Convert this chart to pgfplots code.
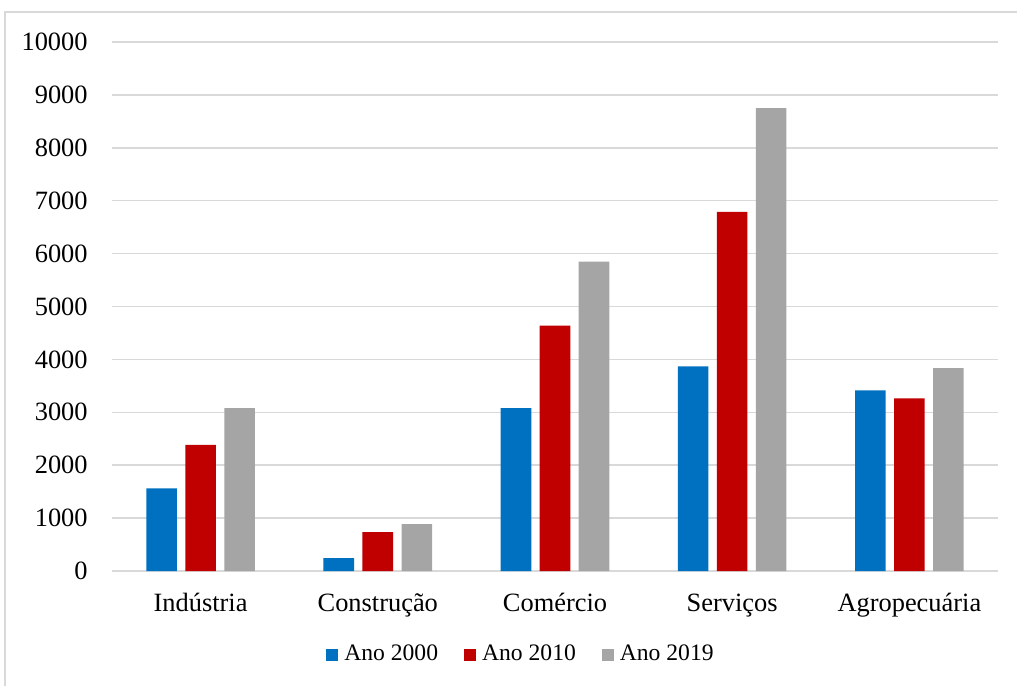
\documentclass[border=0pt]{standalone}
\usepackage{fontspec}
\setmainfont{Liberation Serif}
\usepackage{pgfplots}
\pgfplotsset{compat=1.18}
\definecolor{c2000}{HTML}{0070C0}
\definecolor{c2010}{HTML}{C00000}
\definecolor{c2019}{HTML}{A5A5A5}
\definecolor{gridc}{HTML}{D9D9D9}
\newcommand{\chartfont}{\fontsize{13.2pt}{15pt}\selectfont}
\newcommand{\legendfont}{\fontsize{11.8pt}{14pt}\selectfont}

\begin{document}
\chartfont
\begin{tikzpicture}
\useasboundingbox (0,0) rectangle (508.5pt,343pt);
% chart area frame
\draw[gridc, line width=0.8pt] (2.5pt,0) -- (2.5pt,337pt) -- (508.5pt,337pt);
\begin{axis}[
  at={(56pt,57.5pt)}, anchor=south west,
  scale only axis, width=443pt, height=264.5pt,
  ybar=4.2pt, bar width=15.3pt,
  xmin=-0.5, xmax=4.5, ymin=0, ymax=10000,
  xtick={0,1,2,3,4},
  xticklabels={Indústria, Construção, Comércio, Serviços, Agropecuária},
  ytick={0,1000,...,10000},
  scaled y ticks=false,
  /pgf/number format/assume math mode=true,
  yticklabel={\pgfmathprintnumber[fixed,1000 sep={}]{\tick}},
  axis line style={draw=none},
  major tick length=0pt,
  ymajorgrids, grid style={gridc, line width=0.8pt},
  tick label style={font=\chartfont},
  yticklabel style={anchor=east, inner sep=0pt, xshift=-12pt},
  xticklabel style={anchor=base, inner sep=0pt, yshift=-20.35pt},
  legend style={at={(0.4605,-0.1588)}, anchor=center, draw=none, fill=none,
    legend columns=3, font=\legendfont, inner sep=0pt,
    nodes={inner sep=0pt},
    /tikz/every odd column/.append style={column sep=3pt},
    /tikz/every even column/.append style={column sep=13pt}},
  legend image code/.code={\fill[#1] (0pt,-3pt) rectangle (6pt,3pt);},
]
\addplot[fill=c2000, draw=none] coordinates {(0,1560) (1,245) (2,3080) (3,3870) (4,3415)};
\addplot[fill=c2010, draw=none] coordinates {(0,2385) (1,735) (2,4640) (3,6790) (4,3265)};
\addplot[fill=c2019, draw=none] coordinates {(0,3080) (1,885) (2,5850) (3,8750) (4,3835)};
\legend{Ano 2000, Ano 2010, Ano 2019}
\end{axis}
\end{tikzpicture}
\end{document}
